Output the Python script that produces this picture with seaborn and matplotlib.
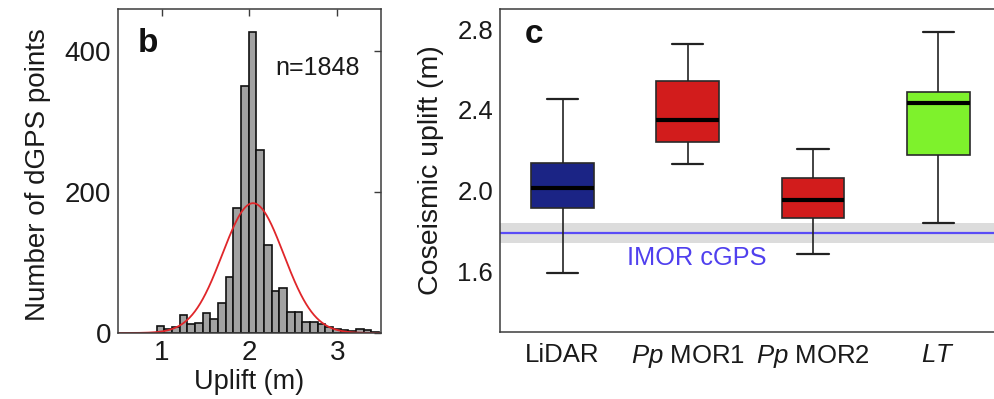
import numpy as np
import pandas as pd
import matplotlib
matplotlib.use("Agg")
import matplotlib.pyplot as plt
import seaborn as sns
from matplotlib.ticker import MultipleLocator

# ---------------- data: panel b (histogram of dGPS uplift) ----------------
BIN_START = 0.94
BIN_WIDTH = 0.0875
HIST_COUNTS = [10, 6, 8, 25, 13, 14, 29, 20, 43, 79, 178, 350, 427, 260, 125,
               59, 64, 30, 30, 16, 16, 13, 9, 6, 4, 3, 5, 4, 2]
N_POINTS = 1848
FIT_MEAN = 2.04
FIT_SD = 0.35
HIST_XTICKS = [1, 2, 3]
HIST_YTICKS = [0, 200, 400]

# ---------------- data: panel c (coseismic uplift box plots) ----------------
METHODS = ["LiDAR", r"$\it{Pp}$ MOR1", r"$\it{Pp}$ MOR2", r"$\it{LT}$"]
WHISK_LOW = [1.59, 2.13, 1.685, 1.84]
Q1 = [1.915, 2.24, 1.865, 2.175]
MEDIAN = [2.015, 2.35, 1.955, 2.435]
Q3 = [2.135, 2.545, 2.065, 2.49]
WHISK_HIGH = [2.455, 2.725, 2.205, 2.785]
BOX_COLORS = ["#1b2485", "#d21c1c", "#d21c1c", "#7ef22c"]
CGPS = 1.79
CGPS_LOW = 1.741
CGPS_HIGH = 1.838
BOX_YTICKS = [1.6, 2.0, 2.4, 2.8]

# ---------------- style ----------------
sns.set_style("white")
plt.rcParams["font.family"] = ["Liberation Sans", "DejaVu Sans"]
plt.rcParams["mathtext.fontset"] = "custom"
plt.rcParams["mathtext.rm"] = "Liberation Sans"
plt.rcParams["mathtext.it"] = "Liberation Sans:italic"
SPINE = "#3c3c3c"
TXT = "#1a1a1a"

W, H = 995, 399
fig = plt.figure(figsize=(W / 100, H / 100), dpi=100)

def pos(l, r, t, b):
    return [l / W, 1 - b / H, (r - l) / W, (b - t) / H]

# ================= panel b =================
axb = fig.add_axes(pos(118, 381, 9, 333))
nb = len(HIST_COUNTS)
edges = BIN_START + BIN_WIDTH * np.arange(nb + 1)
centers = (edges[:-1] + edges[1:]) / 2
hist_df = pd.DataFrame({"uplift": centers, "count": HIST_COUNTS})
sns.histplot(data=hist_df, x="uplift", weights="count", binwidth=BIN_WIDTH,
             binrange=(float(edges[0]), float(edges[-1])), ax=axb,
             color="#a2a2a2", edgecolor="#111111", linewidth=1.2, alpha=1)
xs = np.linspace(0.5, 3.5, 500)
ys = N_POINTS * BIN_WIDTH * np.exp(-0.5 * ((xs - FIT_MEAN) / FIT_SD) ** 2) / (FIT_SD * np.sqrt(2 * np.pi))
sns.lineplot(x=xs, y=ys, ax=axb, color="#e0262a", linewidth=1.3)
axb.set_xlim(0.5, 3.5)
axb.set_ylim(0, 460)
axb.set_xticks(HIST_XTICKS)
axb.set_yticks(HIST_YTICKS)
axb.set_xlabel("Uplift (m)", fontsize=19.5, color=TXT, labelpad=2)
axb.set_ylabel("Number of dGPS points", fontsize=20, color=TXT)
axb.yaxis.set_label_coords(-0.255, 0.49)
axb.tick_params(direction="in", length=5, width=1, colors=SPINE, labelcolor=TXT,
                labelsize=20, top=True, right=True, pad=5)
for s in axb.spines.values():
    s.set_visible(True)
    s.set_color(SPINE)
    s.set_linewidth(1.1)
axb.text(0.076, 0.867, "b", transform=axb.transAxes, fontsize=24,
         fontweight="bold", color="#111111", va="baseline", ha="left")
axb.text(0.597, 0.796, "n=1848", transform=axb.transAxes, fontsize=18,
         color=TXT, va="baseline", ha="left")

# ================= panel c =================
axc = fig.add_axes(pos(500, 995, 9, 332))
rows = []
for m, lo, a, md, b, hi in zip(METHODS, WHISK_LOW, Q1, MEDIAN, Q3, WHISK_HIGH):
    for v in (lo, a, md, b, hi):
        rows.append({"method": m, "value": v})
df = pd.DataFrame(rows)

axc.axhspan(CGPS_LOW, CGPS_HIGH, color="#dcdcdc", zorder=0, linewidth=0)
axc.axhline(CGPS, color="#5a4cf6", linewidth=1.6, zorder=1)

sns.boxplot(data=df, x="method", y="value", hue="method", order=METHODS,
            hue_order=METHODS, palette=BOX_COLORS, saturation=1, legend=False,
            whis=(0, 100), width=0.5, linewidth=1.2, linecolor="#2a2a2a",
            showfliers=False, ax=axc,
            medianprops=dict(color="black", linewidth=3),
            whiskerprops=dict(color="#222222", linewidth=1.2),
            capprops=dict(color="#222222", linewidth=1.6))

axc.set_xlim(-0.5, -0.5 + 495 / 125.2)
axc.set_ylim(1.3, 2.9)
axc.set_yticks(BOX_YTICKS)
axc.set_yticklabels([f"{v:.1f}" for v in BOX_YTICKS])
axc.yaxis.set_minor_locator(MultipleLocator(0.2))
axc.set_xlabel("")
axc.set_ylabel("Coseismic uplift (m)", fontsize=20.5, color=TXT)
axc.yaxis.set_label_coords(-0.113, 0.5)
axc.tick_params(axis="y", which="both", direction="in", length=5, width=1,
                colors=SPINE, labelcolor=TXT, labelsize=18.5, pad=5)
axc.tick_params(axis="x", length=0, labelsize=18.5, labelcolor=TXT, pad=8)
for name, s in axc.spines.items():
    s.set_color(SPINE)
    s.set_linewidth(1.1)
    s.set_visible(name != "right")
axc.text(0.05, 0.894, "c", transform=axc.transAxes, fontsize=24,
         fontweight="bold", color="#111111", va="baseline", ha="left")
axc.text(0.518, 1.665, "IMOR cGPS", fontsize=18.3, color="#5040ee",
         va="center", ha="left")

fig.savefig("out.png", dpi=100)
